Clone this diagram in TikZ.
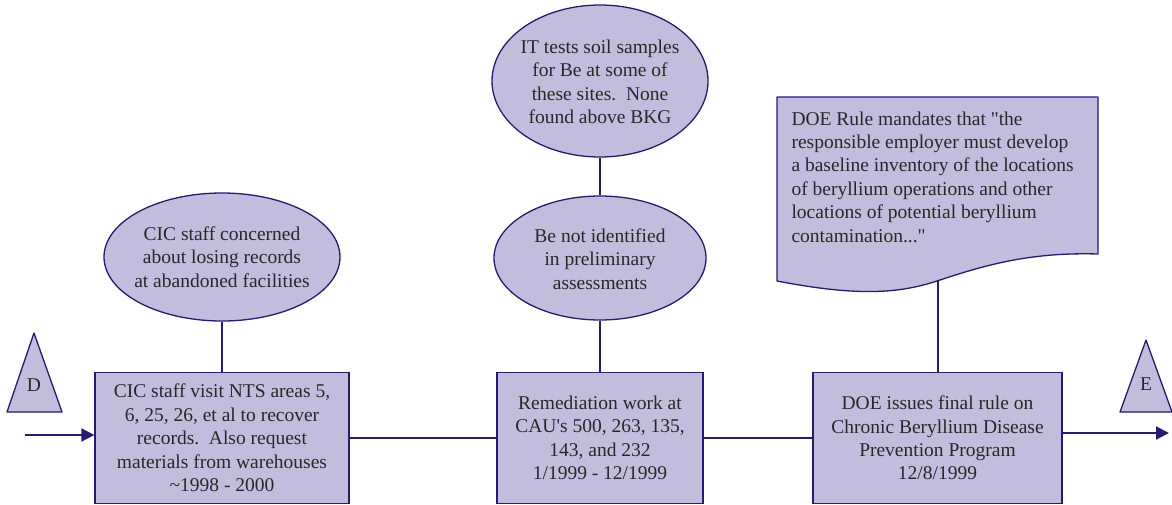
\documentclass[tikz,border=0pt]{standalone}
\usepackage{fontspec}
\setmainfont{Liberation Serif}
\usetikzlibrary{shapes.geometric,arrows.meta}
\definecolor{boxfill}{RGB}{195,189,221}
\definecolor{boxline}{RGB}{40,26,110}
\definecolor{ink}{RGB}{40,40,40}
\begin{document}
\begin{tikzpicture}[x=1pt,y=-1pt,
  every node/.style={font=\fontsize{19.5}{23.4}\selectfont, text=ink},
  event/.style={draw=boxline, fill=boxfill, line width=1.3pt, rectangle, align=center, inner sep=0pt},
  note/.style={draw=boxline, fill=boxfill, line width=1.3pt, ellipse, inner sep=0pt},
  link/.style={draw=boxline, line width=2pt},
  flow/.style={link, -{Triangle[length=13pt,width=13pt]}},
  marker/.style={draw=boxline, fill=boxfill, line width=1.3pt, line join=round}]
\useasboundingbox (0,0) rectangle (1172,504);

% timeline events
\node[event, minimum width=254pt, minimum height=131pt] (b1) at (222,438)
  {CIC staff visit NTS areas 5,\\ 6, 25, 26, et al to recover\\ records.\ \ Also request\\ materials from warehouses\\ \textasciitilde1998 - 2000};
\node[event, minimum width=206pt, minimum height=131pt] (b2) at (600,438)
  {Remediation work at\\ CAU\textquotesingle s 500, 263, 135,\\ 143, and 232\\ 1/1999 - 12/1999};
\node[event, minimum width=249pt, minimum height=131pt] (b3) at (937.5,438)
  {DOE issues final rule on\\ Chronic Beryllium Disease\\ Prevention Program\\ 12/8/1999};

% callout ellipses
\node[note, minimum width=236pt, minimum height=128pt] (e1) at (222,257) {};
\node[align=center] (e1t) at (e1) {CIC staff concerned\\ about losing records\\ at abandoned facilities};
\node[note, minimum width=212pt, minimum height=124pt] (e2) at (600,258) {};
\node[align=center] (e2t) at (600,259) {Be not identified\\ in preliminary\\ assessments};
\node[note, minimum width=216pt, minimum height=152pt] (e3) at (600,81) {};
\node[align=center] (e3t) at (600,82) {IT tests soil samples\\ for Be at some of\\ these sites.\ \ None\\ found above BKG};

% document shape with wavy bottom edge
\draw[marker] (777,97) -- (1098,97) -- (1098,254)
  .. controls (1030,252) and (985,265) .. (937,281)
  .. controls (900,293) and (860,297) .. (777,281) -- cycle;
\coordinate (docb) at (938,281);
\node[anchor=west, align=left] (doct) at (788,177)
  {DOE Rule mandates that \textquotedbl the\\ responsible employer must develop\\ a baseline inventory of the locations\\ of beryllium operations and other\\ locations of potential beryllium\\ contamination...\textquotedbl};

% off-page connectors
\draw[marker] (7,412) -- (34,333) -- (62,412) -- cycle;
\node (dlab) at (34,385) {D};
\draw[marker] (1120,412) -- (1146,340) -- (1172,412) -- cycle;
\node (elab) at (1146,384) {E};

% connectors
\coordinate (din) at (25,435);
\coordinate (eout) at (1169,433);
\draw[flow] (din) -- (din -| b1.west);
\draw[link] (b1.east) -- (b2.west);
\draw[link] (b2.east) -- (b3.west);
\draw[flow] (b3.east |- eout) -- (eout);
\draw[link] (e1.south) -- (b1.north);
\draw[link] (e2.south) -- (b2.north);
\draw[link] (e3.south) -- (e2.north);
\draw[link] (docb) -- (docb |- b3.north);
\end{tikzpicture}
\end{document}
